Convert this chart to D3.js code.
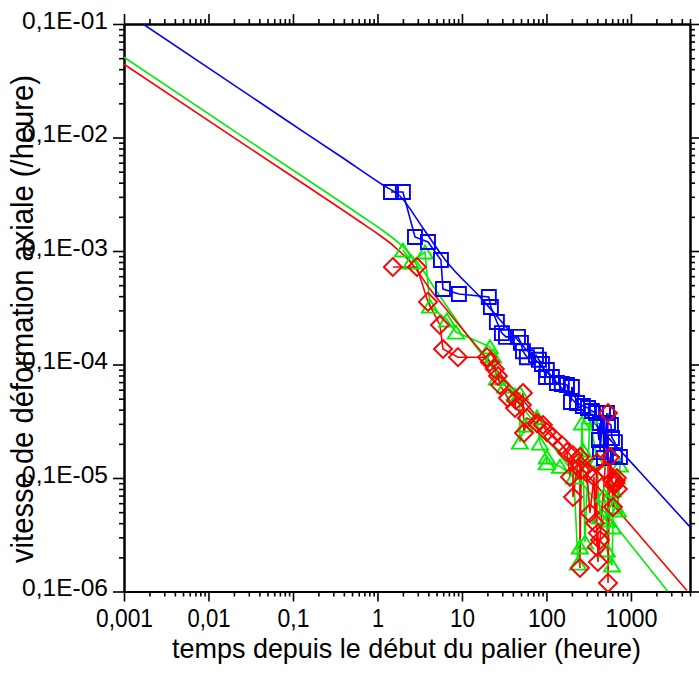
<!DOCTYPE html>
<html><head><meta charset="utf-8">
<script src="https://cdn.jsdelivr.net/npm/d3@7"></script>
<style>
html,body{margin:0;padding:0;background:#fff;}
svg{display:block;}
text{font-family:"Liberation Sans",Arial,sans-serif;fill:#000;}
</style></head><body>
<svg id="c" width="699" height="673"></svg>
<script>
// ---- data (time in hours, axial strain rate per hour) ----
const xMajor = [0.001, 0.01, 0.1, 1, 10, 100, 1000];
const xTickLabels = ["0,001", "0,01", "0,1", "1", "10", "100", "1000"];
const yMajor = [1e-2, 1e-3, 1e-4, 1e-5, 1e-6, 1e-7];
const yTickLabels = ["0,1E-01", "0,1E-02", "0,1E-03", "0,1E-04", "0,1E-05", "0,1E-06"];

const fitBlueT = [0.00168, 0.0826, 0.360, 1.161, 1.845, 3.45, 6.64, 16.3, 34.1, 1279, 5000];
const fitBlueR = [1e-2, 1.426e-3, 6.87e-4, 3.815e-4, 3.05e-4, 1.595e-4, 8.0e-5, 3.94e-5, 2.10e-5, 1.13e-6, 3.7e-7];
const fitGreenT = [0.001, 0.031, 0.621, 1.130, 1.845, 3.01, 5.06, 9.46, 28.2, 2742];
const fitGreenR = [5.09e-3, 9.2e-4, 2.075e-4, 1.531e-4, 1.153e-4, 7.84e-5, 4.35e-5, 2.23e-5, 7.60e-6, 1e-7];
const fitRedT = [0.001, 0.031, 0.621, 1.014, 1.61, 2.63, 4.18, 7.21, 144.5, 4600];
const fitRedR = [4.42e-3, 8.03e-4, 1.81e-4, 1.41e-4, 1.084e-4, 7.53e-5, 4.62e-5, 2.79e-5, 2.03e-6, 1.02e-7];

const blueT = [1.445, 2.00, 2.78, 3.96, 5.64, 5.96, 9.2, 20.8, 22.0, 25.9, 29.7, 33.2, 46.0, 49.9, 52.7, 58.7, 75.2, 81.5, 88.5, 98.6, 101, 116, 133, 152, 175, 195, 200, 230, 270, 310, 345, 385, 418, 430, 430, 467, 479, 520, 535, 580, 596, 646, 646, 741];
const blueR = [3.31e-4, 3.31e-4, 1.33e-4, 1.20e-4, 8.33e-5, 4.62e-5, 4.18e-5, 3.93e-5, 3.21e-5, 2.37e-5, 1.89e-5, 1.75e-5, 1.75e-5, 1.55e-5, 1.31e-5, 1.16e-5, 1.21e-5, 1.10e-5, 1.01e-5, 7.76e-6, 8.94e-6, 7.76e-6, 6.87e-6, 6.73e-6, 6.59e-6, 4.67e-6, 6.34e-6, 4.58e-6, 4.31e-6, 4.14e-6, 3.89e-6, 3.74e-6, 2.16e-6, 3.05e-6, 1.69e-6, 3.74e-6, 1.50e-6, 3.74e-6, 3.05e-6, 2.93e-6, 2.25e-6, 2.07e-6, 1.59e-6, 1.53e-6];

const greenT = [2.00, 2.49, 3.65, 4.18, 6.64, 8.49, 21.4, 23.3, 25.9, 32.3, 42.4, 48.5, 48.5, 55.6, 77.1, 83.8, 101, 101, 144.5, 211, 236, 249, 263, 270, 270, 286, 327, 395, 430, 479, 520, 520, 596, 612, 612, 629, 682, 701, 741];
const greenR = [1.02e-4, 8.0e-5, 9.8e-5, 3.27e-5, 2.47e-5, 1.93e-5, 1.43e-5, 1.19e-5, 7.60e-6, 6.46e-6, 5.38e-6, 5.61e-6, 2.07e-6, 2.93e-6, 3.44e-6, 2.03e-6, 1.53e-6, 1.36e-6, 1.27e-6, 1.02e-6, 1.78e-7, 2.47e-7, 3.05e-6, 1.76e-6, 1.53e-6, 2.73e-7, 3.44e-6, 1.44e-6, 4.53e-7, 7.08e-7, 4.27e-7, 2.32e-7, 1.71e-7, 3.70e-7, 7.83e-7, 5.55e-7, 1.02e-6, 5.22e-7, 1.30e-6];

const redT = [1.52, 2.93, 3.96, 5.48, 5.96, 8.97, 19.8, 21.4, 24.5, 26.7, 28.2, 35.0, 42.4, 43.5, 51.3, 52.7, 54.2, 58.7, 77.1, 90.8, 101, 119, 152, 175, 190, 206, 206, 236, 249, 249, 256, 301, 327, 365, 375, 395, 395, 406, 406, 430, 492, 535, 535, 564, 596, 612, 630, 646, 660, 682, 700];
const redR = [7.23e-5, 7.23e-5, 3.56e-5, 2.23e-5, 1.37e-5, 1.16e-5, 1.16e-5, 1.05e-5, 9.12e-6, 7.92e-6, 6.59e-6, 5.07e-6, 4.14e-6, 4.86e-6, 4.40e-6, 5.61e-6, 2.49e-6, 3.37e-6, 3.05e-6, 2.93e-6, 2.54e-6, 2.30e-6, 1.95e-6, 1.69e-6, 1.02e-6, 1.59e-6, 6.80e-7, 1.36e-6, 1.53e-6, 1.61e-7, 1.17e-6, 1.11e-6, 4.91e-7, 1.02e-6, 4.01e-7, 1.36e-6, 2.47e-7, 3.27e-7, 1.82e-7, 2.84e-7, 1.17e-6, 3.74e-6, 1.19e-7, 1.53e-6, 9.6e-7, 5.55e-7, 8.6e-7, 9.0e-7, 9.4e-7, 1.0e-6, 8.0e-7];

const xTitle = "temps depuis le début du palier (heure)";
const yTitle = "vitesse de déformation axiale (/heure)";

// ---- layout ----
const L = 124, R = 690, T = 24, B = 591.5;
const xLabelW = [57, 43, 32, 12, 25, 38, 52];
const svg = d3.select("#c");
const x = d3.scaleLog().domain([0.001, 5000]).range([L, R]);
const y = d3.scaleLog().domain([1e-7, 1e-2]).range([B, T]);

const xMinor = [];
for (let e = -3; e <= 3; e++) for (let m = 2; m <= 9; m++) { const v = m * Math.pow(10, e); if (v <= 5000) xMinor.push(v); }
const yMinor = [];
for (let e = -7; e <= -3; e++) for (let m = 2; m <= 9; m++) yMinor.push(m * Math.pow(10, e));

svg.append("defs").append("clipPath").attr("id", "clip")
  .append("rect").attr("x", L).attr("y", T).attr("width", R - L).attr("height", B - T);

function styleAxis(g) {
  g.selectAll("line").attr("stroke", "#000").attr("stroke-width", 1.6);
  g.select(".domain").attr("stroke", "#000").attr("stroke-width", 2);
}
const minorX = (ax) => ax.tickValues(xMinor).tickSize(5).tickSizeOuter(0).tickFormat("");
const minorY = (ax) => ax.tickValues(yMinor).tickSize(5).tickSizeOuter(0).tickFormat("");
svg.append("g").attr("transform", `translate(0,${B})`).call(minorX(d3.axisBottom(x))).call(styleAxis);
svg.append("g").attr("transform", `translate(0,${T})`).call(minorX(d3.axisTop(x))).call(styleAxis);
svg.append("g").attr("transform", `translate(${L},0)`).call(minorY(d3.axisLeft(y))).call(styleAxis);
svg.append("g").attr("transform", `translate(${R},0)`).call(minorY(d3.axisRight(y))).call(styleAxis);

const gb = svg.append("g").attr("transform", `translate(0,${B})`)
  .call(d3.axisBottom(x).tickValues(xMajor).tickSize(10).tickSizeOuter(0).tickFormat((d, i) => xTickLabels[i]))
  .call(styleAxis);
gb.selectAll("text").attr("y", 35.5).attr("dy", 0).attr("x", 0)
  .attr("textLength", (d, i) => xLabelW[i]).attr("lengthAdjust", "spacingAndGlyphs")
  .style("font-size", "25px").attr("fill", "#000");
svg.append("g").attr("transform", `translate(0,${T})`)
  .call(d3.axisTop(x).tickValues(xMajor).tickSize(10).tickSizeOuter(0).tickFormat(""))
  .call(styleAxis);
const gl = svg.append("g").attr("transform", `translate(${L},0)`)
  .call(d3.axisLeft(y).tickValues(yMajor).tickSize(11).tickSizeOuter(0).tickFormat((d, i) => yTickLabels[i]))
  .call(styleAxis);
gl.selectAll("text").attr("x", -16).attr("dy", 4)
  .attr("textLength", 86).attr("lengthAdjust", "spacingAndGlyphs")
  .style("font-size", "23px").attr("fill", "#000");
svg.append("g").attr("transform", `translate(${R},0)`)
  .call(d3.axisRight(y).tickValues(yMajor).tickSize(10).tickSizeOuter(0).tickFormat(""))
  .call(styleAxis);

// titles
svg.append("text").attr("x", 172).attr("y", 658)
  .attr("textLength", 469).attr("lengthAdjust", "spacingAndGlyphs")
  .style("font-size", "28px").text(xTitle);
svg.append("text").attr("transform", "translate(33,563) rotate(-90)")
  .attr("textLength", 488).attr("lengthAdjust", "spacingAndGlyphs")
  .style("font-size", "31px").text(yTitle);

// plot
const plot = svg.append("g").attr("clip-path", "url(#clip)");
const zip = (T_, R_) => T_.map((t, i) => [t, R_[i]]);
const fitLine = d3.line().x(d => x(d[0])).y(d => y(d[1])).curve(d3.curveMonotoneX);
const dataLine = d3.line().x(d => x(d[0])).y(d => y(d[1]));

const series = [
  { color: "#00ee00", fit: zip(fitGreenT, fitGreenR), data: zip(greenT, greenR), marker: "M0,-6.5L8,6.5L-8,6.5Z" },
  { color: "#0000ff", fit: zip(fitBlueT, fitBlueR), data: zip(blueT, blueR), marker: "M-7,-7H7V7H-7Z" },
  { color: "#ff0000", fit: zip(fitRedT, fitRedR), data: zip(redT, redR), marker: "M0,-9L9,0L0,9L-9,0Z" }
];
series.forEach(s => {
  plot.append("path").attr("d", fitLine(s.fit)).attr("fill", "none")
    .attr("stroke", s.color).attr("stroke-width", 1.6);
  plot.append("path").attr("d", dataLine(s.data)).attr("fill", "none")
    .attr("stroke", s.color).attr("stroke-width", 1.6);
  svg.append("g").selectAll("path").data(s.data).join("path")
    .attr("transform", d => `translate(${x(d[0])},${y(d[1])})`)
    .attr("d", s.marker).attr("fill", "none")
    .attr("stroke", s.color).attr("stroke-width", 1.9);
});
</script>
</body></html>
